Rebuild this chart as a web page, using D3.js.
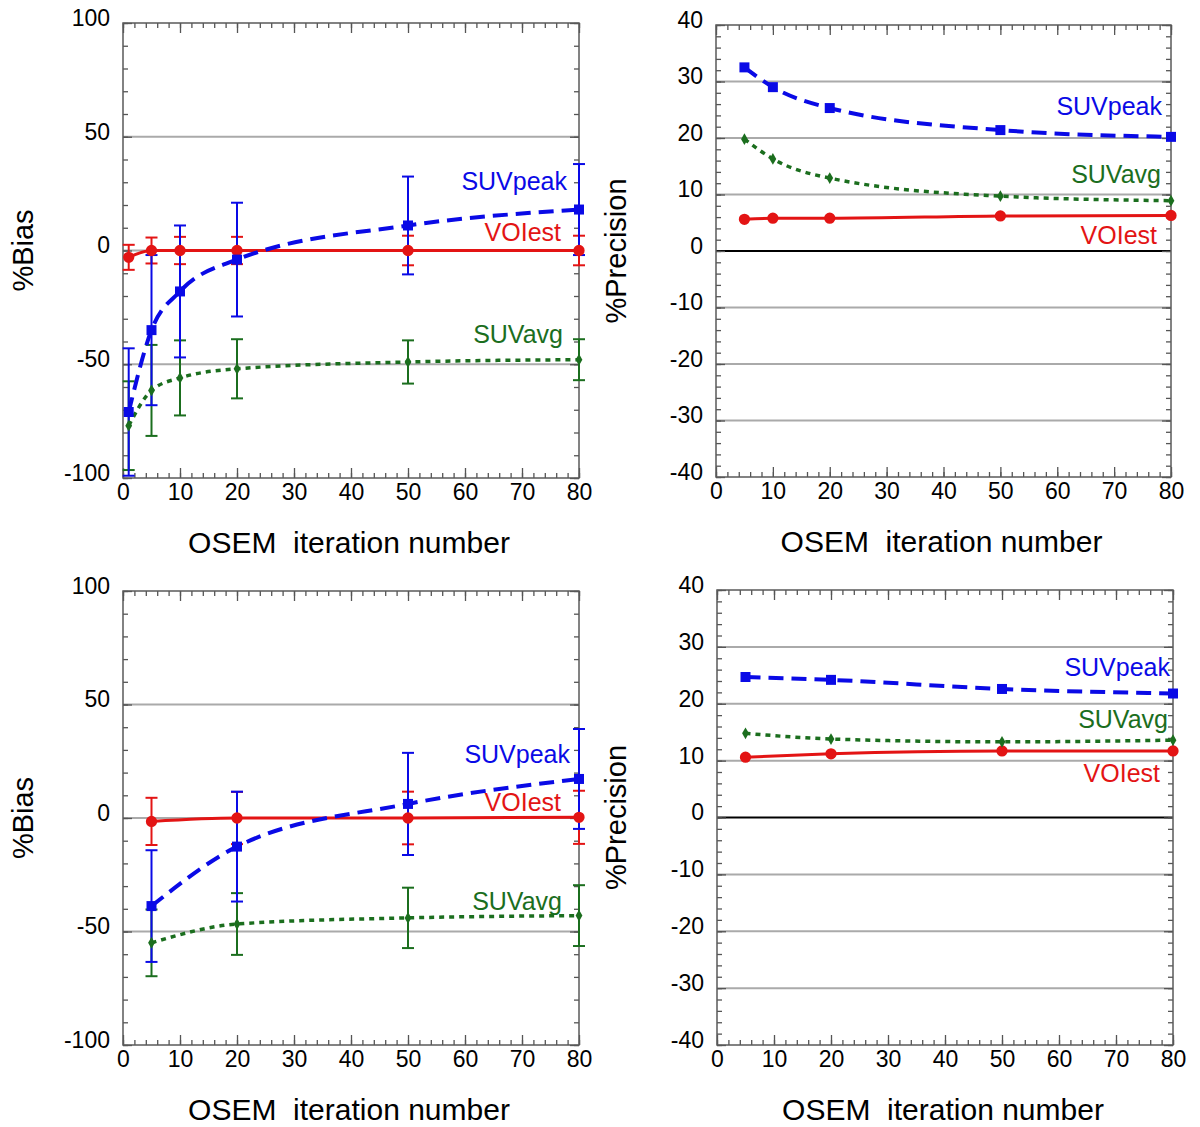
<!DOCTYPE html>
<html>
<head>
<meta charset="utf-8">
<script src="https://cdn.jsdelivr.net/npm/d3@7"></script>
<style>
  body { margin: 0; background: #fff; }
  svg { display: block; font-family: "Liberation Sans", Arial, Helvetica, sans-serif; }
</style>
</head>
<body>
<svg id="chart" width="1200" height="1127"></svg>
<script>
// iteration numbers
var itersTopBias = [1, 5, 10, 20, 50, 80];
var itersTopPrec = [5, 10, 20, 50, 80];
var itersBottom  = [5, 20, 50, 80];

// top row, %Bias (mean, half error bar)
var voiBiasTop     = [-3, 0, 0, 0, 0, 0];
var voiBiasErrTop  = [5.5, 5.7, 6, 6, 6.5, 6.5];
var peakBiasTop    = [-71, -35, -18, -4, 11, 18];
var peakBiasErrTop = [28, 33, 29, 25, 21.5, 20];
var avgBiasTop     = [-77, -61.5, -56, -52, -49, -48];
var avgBiasErrTop  = [19.5, 20, 16.5, 13, 9.5, 9];

// top row, %Precision
var peakPrecTop = [32.5, 29, 25.3, 21.4, 20.2];
var avgPrecTop  = [19.8, 16.3, 12.9, 9.7, 8.9];
var voiPrecTop  = [5.6, 5.8, 5.8, 6.2, 6.3];

// bottom row, %Bias
var voiBiasBot     = [-1.5, 0, 0, 0.3];
var voiBiasErrBot  = [10.4, 11.5, 11.6, 11.7];
var peakBiasBot    = [-38.8, -12.6, 6.2, 17.2];
var peakBiasErrBot = [24.6, 24.2, 22.5, 22];
var avgBiasBot     = [-55, -46.7, -44, -43];
var avgBiasErrBot  = [14.7, 13.6, 13.3, 13.4];

// bottom row, %Precision
var peakPrecBot = [24.7, 24.2, 22.6, 21.8];
var avgPrecBot  = [14.8, 13.8, 13.3, 13.6];
var voiPrecBot  = [10.6, 11.2, 11.7, 11.7];

var xTicks     = [0, 10, 20, 30, 40, 50, 60, 70, 80];
var biasTicks  = [100, 50, 0, -50, -100];
var precTicks  = [40, 30, 20, 10, 0, -10, -20, -30, -40];

var BLUE = "#0a0ae6", RED = "#e31414", GREEN = "#1b6e1e";

var svg = d3.select("#chart");

function plain(d){ return String(d); }   // keep ascii hyphen for negatives

function drawPanel(p){
  var g = svg.append("g");

  var sx = d3.scaleLinear().domain([0, 80]).range([p.left, p.right]);
  var sy = d3.scaleLinear().domain(p.yDomain).range([p.bottom, p.top]);

  // grid lines
  g.selectAll(".grid").data(p.grid).enter().append("line")
    .attr("x1", p.left).attr("x2", p.right)
    .attr("y1", function(d){ return sy(d); }).attr("y2", function(d){ return sy(d); })
    .attr("stroke", function(d){ return (d === 0 && p.blackZero) ? "#000" : "#aaa"; })
    .attr("stroke-width", function(d){ return (d === 0 && p.blackZero) ? 2.2 : 2; });

  // ticks, all pointing inward
  function ticks(axis, tr){
    var a = g.append("g").attr("transform", tr).call(axis);
    a.select(".domain").remove();
    a.selectAll("line").attr("stroke", "#555").attr("stroke-width", 1.3);
    return a;
  }
  var bottomY = "translate(0," + p.bottom + ")", topY = "translate(0," + p.top + ")";
  var leftX = "translate(" + p.left + ",0)", rightX = "translate(" + p.right + ",0)";

  ticks(d3.axisBottom(sx).tickValues(d3.range(0, 81, 2)).tickSize(-5).tickFormat(""), bottomY);
  ticks(d3.axisTop(sx).tickValues(d3.range(0, 81, 2)).tickSize(-5).tickFormat(""), topY);
  var xa = ticks(d3.axisBottom(sx).tickValues(xTicks).tickSize(-10).tickPadding(0).tickFormat(plain), bottomY);
  ticks(d3.axisTop(sx).tickValues(xTicks).tickSize(-10).tickFormat(""), topY);

  ticks(d3.axisLeft(sy).tickValues(d3.range(p.yDomain[0], p.yDomain[1] + 0.1, p.minor)).tickSize(-5).tickFormat(""), leftX);
  ticks(d3.axisRight(sy).tickValues(d3.range(p.yDomain[0], p.yDomain[1] + 0.1, p.minor)).tickSize(-5).tickFormat(""), rightX);
  var ya = ticks(d3.axisLeft(sy).tickValues(p.yTicks).tickSize(-9).tickPadding(13).tickFormat(plain), leftX);
  ticks(d3.axisRight(sy).tickValues(p.yTicks).tickSize(-9).tickFormat(""), rightX);

  xa.selectAll("text").attr("y", 22).attr("dy", null)
    .attr("font-size", 23).attr("fill", "#000").attr("font-family", null);
  ya.selectAll("text").attr("dy", "0.32em").attr("y", -5)
    .attr("font-size", 23).attr("fill", "#000").attr("font-family", null);

  // frame
  g.append("rect")
    .attr("x", p.left).attr("y", p.top)
    .attr("width", p.right - p.left).attr("height", p.bottom - p.top)
    .attr("fill", "none").attr("stroke", "#5a5a5a").attr("stroke-width", 1.5);

  // axis titles
  g.append("text")
    .attr("transform", "translate(" + p.yTitleX + "," + ((p.top + p.bottom) / 2) + ") rotate(-90)")
    .attr("text-anchor", "middle").attr("font-size", 29)
    .text(p.yTitle);
  g.append("text")
    .attr("x", (p.left + p.right) / 2 - 2).attr("y", p.bottom + 75)
    .attr("text-anchor", "middle").attr("font-size", 30)
    .style("white-space", "pre")
    .text("OSEM  iteration number");

  var series = p.series;

  // error bars
  series.forEach(function(s){
    if (!s.err) return;
    var eb = g.append("g").attr("stroke", s.color).attr("stroke-width", 2);
    s.values.forEach(function(v, i){
      var x = sx(s.iters[i]), y1 = sy(v + s.err[i]), y2 = sy(v - s.err[i]);
      eb.append("line").attr("x1", x).attr("x2", x).attr("y1", y1).attr("y2", y2);
      eb.append("line").attr("x1", x - 6).attr("x2", x + 6).attr("y1", y1).attr("y2", y1);
      eb.append("line").attr("x1", x - 6).attr("x2", x + 6).attr("y1", y2).attr("y2", y2);
    });
  });

  // lines
  series.forEach(function(s){
    var line = d3.line()
      .x(function(d, i){ return sx(s.iters[i]); })
      .y(function(d){ return sy(d); })
      .curve(d3.curveMonotoneX);
    g.append("path")
      .attr("d", line(s.values))
      .attr("fill", "none")
      .attr("stroke", s.color)
      .attr("stroke-width", s.width)
      .attr("stroke-dasharray", s.dash);
  });

  // markers
  series.forEach(function(s){
    var sym = d3.symbol().type(s.symbol).size(s.size);
    g.selectAll(null).data(s.values).enter().append("path")
      .attr("d", sym)
      .attr("transform", function(d, i){ return "translate(" + sx(s.iters[i]) + "," + sy(d) + ")"; })
      .attr("fill", s.color);
  });

  // series labels
  p.labels.forEach(function(l){
    g.append("text")
      .attr("x", p.right - l.dx).attr("y", sy(l.y))
      .attr("text-anchor", "end").attr("font-size", 25)
      .attr("fill", l.color)
      .text(l.text);
  });
}

function mkSeries(iters, voi, voiErr, peak, peakErr, avg, avgErr){
  return [
    {iters: iters, values: voi,  err: voiErr,  color: RED,   width: 3,   dash: null,  symbol: d3.symbolCircle,  size: 100},
    {iters: iters, values: avg,  err: avgErr,  color: GREEN, width: 3.5, dash: "5,5", symbol: d3.symbolDiamond, size: 40},
    {iters: iters, values: peak, err: peakErr, color: BLUE,  width: 4,   dash: "15,8", symbol: d3.symbolSquare, size: 100}
  ];
}

drawPanel({
  left: 123, right: 579, top: 23, bottom: 478,
  yDomain: [-100, 100], yTicks: biasTicks, minor: 10, grid: [50, 0, -50], blackZero: false,
  yTitle: "%Bias", yTitleX: 33,
  series: mkSeries(itersTopBias, voiBiasTop, voiBiasErrTop, peakBiasTop, peakBiasErrTop, avgBiasTop, avgBiasErrTop),
  labels: [
    {text: "SUVpeak", dx: 12, y: 26.6, color: BLUE},
    {text: "VOIest",  dx: 18, y: 4.3,  color: RED},
    {text: "SUVavg",  dx: 16, y: -40.8, color: GREEN}
  ]
});

drawPanel({
  left: 716, right: 1171, top: 25, bottom: 477,
  yDomain: [-40, 40], yTicks: precTicks, minor: 2, grid: [30, 20, 10, 0, -10, -20, -30], blackZero: true,
  yTitle: "%Precision", yTitleX: 626,
  series: mkSeries(itersTopPrec, voiPrecTop, null, peakPrecTop, null, avgPrecTop, null),
  labels: [
    {text: "SUVpeak", dx: 9,  y: 24.1, color: BLUE},
    {text: "SUVavg",  dx: 10, y: 12.0, color: GREEN},
    {text: "VOIest",  dx: 14, y: 1.3,  color: RED}
  ]
});

drawPanel({
  left: 123, right: 579, top: 591, bottom: 1045,
  yDomain: [-100, 100], yTicks: biasTicks, minor: 10, grid: [50, 0, -50], blackZero: false,
  yTitle: "%Bias", yTitleX: 33,
  series: mkSeries(itersBottom, voiBiasBot, voiBiasErrBot, peakBiasBot, peakBiasErrBot, avgBiasBot, avgBiasErrBot),
  labels: [
    {text: "SUVpeak", dx: 9,  y: 24.1, color: BLUE},
    {text: "VOIest",  dx: 18, y: 3.1,  color: RED},
    {text: "SUVavg",  dx: 17, y: -40.5, color: GREEN}
  ]
});

drawPanel({
  left: 717, right: 1173, top: 590, bottom: 1045,
  yDomain: [-40, 40], yTicks: precTicks, minor: 2, grid: [30, 20, 10, 0, -10, -20, -30], blackZero: true,
  yTitle: "%Precision", yTitleX: 626,
  series: mkSeries(itersBottom, voiPrecBot, null, peakPrecBot, null, avgPrecBot, null),
  labels: [
    {text: "SUVpeak", dx: 3,  y: 24.9, color: BLUE},
    {text: "SUVavg",  dx: 5,  y: 15.8, color: GREEN},
    {text: "VOIest",  dx: 13, y: 6.2,  color: RED}
  ]
});
</script>
</body>
</html>
